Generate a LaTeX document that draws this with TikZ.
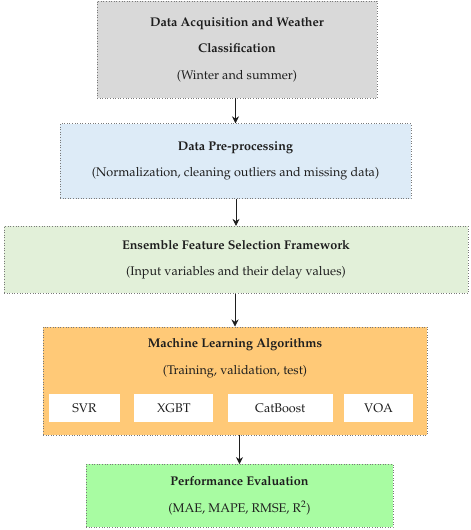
\documentclass[tikz,border=0pt]{standalone}
\usepackage[T1]{fontenc}
\usepackage{mathpazo}
\usepackage{xcolor}
\usepackage{tikz}
\usetikzlibrary{arrows.meta,positioning}
\definecolor{ink}{HTML}{1E1E1E}
\definecolor{edge}{HTML}{7A7A7A}
\definecolor{gryL}{HTML}{D9D9D9}
\definecolor{bluL}{HTML}{DDEBF7}
\definecolor{grnL}{HTML}{E2F0D9}
\definecolor{orgL}{HTML}{FFC977}
\definecolor{grnB}{HTML}{A8FCA2}
\tikzset{
  box/.style   ={draw=edge, dotted, line width=.6pt, align=center, text=ink,
                 font=\fontsize{12.6}{26.5}\selectfont, inner sep=0pt},
  acq/.style   ={box, fill=gryL, minimum width=280pt, minimum height=97pt},
  pre/.style   ={box, fill=bluL, minimum width=351pt, minimum height=75pt},
  fs/.style    ={box, fill=grnL, minimum width=464pt, minimum height=67pt},
  ml/.style    ={box, fill=orgL, minimum width=384pt, minimum height=108pt},
  ev/.style    ={box, fill=grnB, minimum width=307pt, minimum height=63pt},
  alg/.style   ={fill=white, text=ink, font=\fontsize{12.6}{14}\selectfont,
                 minimum height=28pt, inner sep=0pt},
  lbl/.style   ={align=center, text=ink, font=\fontsize{12.6}{26.5}\selectfont, inner sep=0pt},
  flow/.style  ={-{Stealth[length=7pt,width=7pt]}, line width=.7pt, draw=ink},
}
\begin{document}
\begin{tikzpicture}
  \useasboundingbox (0,0) rectangle (471pt,-530pt);
  \node[acq] (acq) at (237pt,-49.5pt)
       {\textbf{Data Acquisition and Weather}\\\textbf{Classification}\\(Winter and summer)};
  \node[pre, below=25pt of acq.south, anchor=north, xshift=-1.5pt] (pre)
       {\textbf{Data Pre-processing}\\(Normalization, cleaning outliers and missing data)};
  \node[fs, below=27pt of pre.south, anchor=north, xshift=.5pt] (fs)
       {\textbf{Ensemble Feature Selection Framework}\\(Input variables and their delay values)};
  \node[ml, below=33pt of fs.south, anchor=north, xshift=-1pt] (ml) {};
  \node[lbl, below=12pt of ml.north, anchor=north] (mlt)
       {\textbf{Machine Learning Algorithms}\\(Training, validation, test)};
  % model boxes
  \node[alg, minimum width=71pt, anchor=south west] (svr) at ([xshift=6pt,yshift=13pt]ml.south west) {SVR};
  \node[alg, minimum width=79pt, right=14pt of svr] (xgbt) {XGBT};
  \node[alg, minimum width=105pt, right=14pt of xgbt] (cat) {CatBoost};
  \node[alg, minimum width=69pt, right=11pt of cat] (voa) {VOA};
  \node[ev, below=29pt of ml.south, anchor=north, xshift=4.5pt] (ev)
       {\textbf{Performance Evaluation}\\(MAE, MAPE, RMSE, R$^2$)};
  \draw[flow] (pre.north |- acq.south) -- (pre.north);
  \draw[flow] (fs.north |- pre.south) -- (fs.north);
  \draw[flow] (ml.north |- fs.south) -- (ml.north);
  \draw[flow] (ev.north |- ml.south) -- (ev.north);
\end{tikzpicture}
\end{document}
